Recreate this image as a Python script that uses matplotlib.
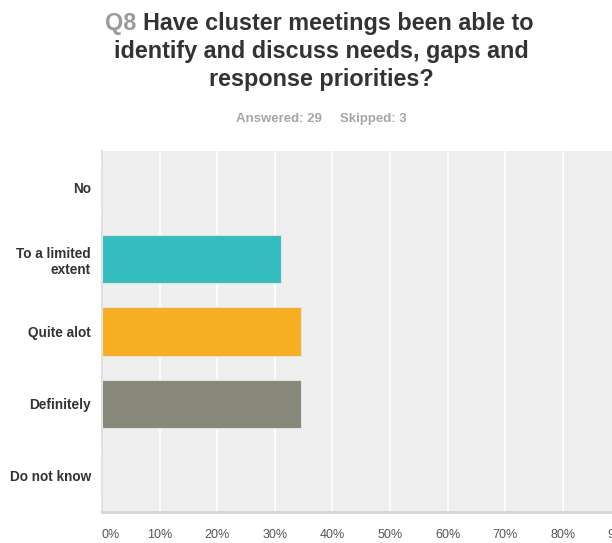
import matplotlib

matplotlib.use("Agg")
import matplotlib.pyplot as plt

plt.rcParams["font.family"] = ["Liberation Sans", "DejaVu Sans"]

# survey answers, top to bottom
categories = ["No", "To a limited\nextent", "Quite alot", "Definitely", "Do not know"]
counts = [0, 9, 10, 10, 0]
answered = 29
skipped = 3
bar_colors = ["#e8e8e8", "#33bdbf", "#f7ae20", "#87877a", "#e8e8e8"]
xticks = [0, 10, 20, 30, 40, 50, 60, 70, 80, 90, 100]

percentages = [100 * c / answered for c in counts]

fig = plt.figure(figsize=(6.12, 5.43), dpi=100)
fig.patch.set_facecolor("white")

W, H = 612, 543
# plot area spans past the right edge of the figure
left, right, top, bottom = 102, 678, 151, 512
ax = fig.add_axes([left / W, 1 - bottom / H, (right - left) / W, (bottom - top) / H])
ax.set_facecolor("#efefef")

y_positions = list(range(len(categories)))
ax.barh(y_positions, percentages, height=0.67, color=bar_colors,
        edgecolor="#e2e2e2", linewidth=0.8, zorder=3)
ax.set_ylim(len(categories) - 0.5, -0.5)
ax.set_xlim(0, 100)

ax.set_xticks(xticks)
ax.set_xticklabels([f"{t}%" for t in xticks], color="#555555", fontsize=9)
ax.get_xticklabels()[0].set_horizontalalignment("left")
ax.set_yticks(y_positions)
ax.set_yticklabels(categories, fontsize=9.8, fontweight="bold", color="#333333")
ax.tick_params(axis="both", length=0)
ax.tick_params(axis="x", pad=12)
ax.tick_params(axis="y", pad=8)
ax.grid(axis="x", color="white", linewidth=1.2, zorder=1)

for side in ["top", "right"]:
    ax.spines[side].set_visible(False)
ax.spines["bottom"].set_color("#d6d6d6")
ax.spines["bottom"].set_linewidth(2)
ax.spines["left"].set_color("#e0e0e0")
ax.spines["left"].set_linewidth(1.5)

# title: grey question number followed by the question text
cx = 321 / W
title_size = 16.8
line1 = fig.text(cx + 0.028, 1 - 30 / H, "Have cluster meetings been able to",
                 ha="center", va="baseline", fontsize=title_size, fontweight="bold",
                 color="#333333")
fig.canvas.draw()
ax.annotate("Q8 ", xy=(0, 0), xycoords=line1, ha="right", va="bottom",
            fontsize=title_size, fontweight="bold", color="#9a9a9a",
            annotation_clip=False)
fig.text(cx, 1 - 58 / H, "identify and discuss needs, gaps and",
         ha="center", va="baseline", fontsize=title_size, fontweight="bold", color="#333333")
fig.text(cx, 1 - 86 / H, "response priorities?",
         ha="center", va="baseline", fontsize=title_size, fontweight="bold", color="#333333")

fig.text(cx, 1 - 122 / H, f"Answered: {answered}     Skipped: {skipped}",
         ha="center", va="baseline", fontsize=9.5, fontweight="bold", color="#a6a6a6")

fig.savefig("out.png", dpi=100)
